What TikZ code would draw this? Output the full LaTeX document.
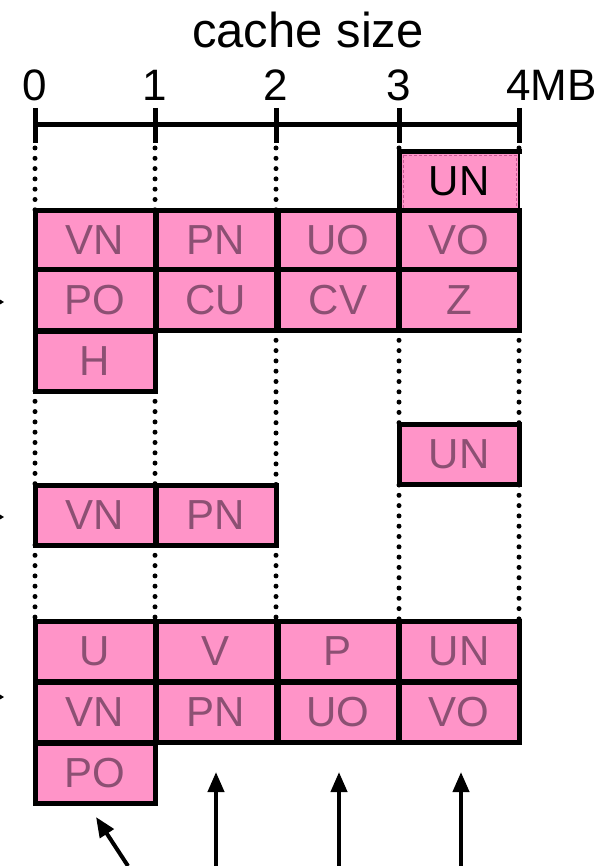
\documentclass[tikz,border=0pt]{standalone}
\usepackage{fontspec}
\setmainfont{Liberation Sans}
\usetikzlibrary{arrows.meta}
\definecolor{cpink}{RGB}{255,148,200}
\definecolor{cgrey}{RGB}{140,80,115}
\definecolor{cdash}{RGB}{200,90,150}
\tikzset{
  cell/.style={draw, line width=5pt, fill=cpink, minimum width=120pt, minimum height=60pt,
    inner sep=0pt, font=\fontsize{42}{42}\selectfont, text=cgrey},
  guide/.style={line width=5pt, dash pattern=on 0pt off 10.3pt, line cap=round},
  axislbl/.style={font=\fontsize{44}{44}\selectfont, inner sep=0pt},
  bigarrow/.style={line width=4pt, -{Triangle[length=20pt,width=16pt]}},
  smallarrow/.style={line width=1pt, -{Triangle[length=6pt,width=7pt]}}
}
\begin{document}
\begin{tikzpicture}[x=1pt,y=-1pt]
\useasboundingbox (0,0) rectangle (601,866);
% title and axis
\node[font=\fontsize{49}{49}\selectfont, inner sep=0pt] (title) at (308,30) {cache size};
\node[axislbl] (l0) at (35,85) {0};
\node[axislbl] (l1) at (155,85) {1};
\node[axislbl] (l2) at (276,85) {2};
\node[axislbl] (l3) at (399,85) {3};
\node[axislbl, anchor=west] (l4) at (506,85) {4MB};
\draw[line width=5pt] (35,125) -- (519,125);
\foreach \x in {35,155,276,399,519} \draw[line width=5pt] (\x,108) -- (\x,143);
% dotted guides
\foreach \x in {35,155,276} \draw[guide] (\x,148) -- (\x,211);
\foreach \x in {399,519} \draw[guide] (\x,148) -- (\x,152);
\foreach \x in {35,155} \draw[guide] (\x,391) -- (\x,485);
\draw[guide] (276,330) -- (276,485);
\foreach \x in {399,519} \draw[guide] (\x,330) -- (\x,424);
\foreach \x in {35,155,276} \draw[guide] (\x,545) -- (\x,620);
\foreach \x in {399,519} \draw[guide] (\x,485) -- (\x,620);
% section 1
\node[cell, draw=none, text=black] (a0) at (459,181.5) {UN};
\draw[cdash, line width=0.8pt, densely dashed] (403,155) rectangle (516,209);
\draw[line width=5pt, line cap=rect] (399,211) -- (399,152) -- (519,152);
\draw[line width=1.5pt] (519,152) -- (519,211);
\node[cell] (a1) at (95,240.5) {VN};
\node[cell] (a2) at (216,240.5) {PN};
\node[cell] (a3) at (338,240.5) {UO};
\node[cell] (a4) at (459,240.5) {VO};
\node[cell] (b1) at (95,300) {PO};
\node[cell] (b2) at (216,300) {CU};
\node[cell] (b3) at (338,300) {CV};
\node[cell] (b4) at (459,300) {Z};
\node[cell] (c1) at (95,361) {H};
% section 2
\node[cell] (d4) at (459,454.5) {UN};
\node[cell] (e1) at (95,515) {VN};
\node[cell] (e2) at (216,515) {PN};
% section 3
\node[cell] (f1) at (95,651) {U};
\node[cell] (f2) at (216,651) {V};
\node[cell] (f3) at (338,651) {P};
\node[cell] (f4) at (459,651) {UN};
\node[cell] (g1) at (95,712.5) {VN};
\node[cell] (g2) at (216,712.5) {PN};
\node[cell] (g3) at (338,712.5) {UO};
\node[cell] (g4) at (459,712.5) {VO};
\node[cell] (h1) at (95,773) {PO};
% arrows at bottom
\coordinate (t0) at (128,866);
\coordinate (h0) at (96,817);
\coordinate (t1) at (216,870);
\coordinate (h1t) at (216,772);
\coordinate (t2) at (339,870);
\coordinate (h2t) at (339,772);
\coordinate (t3) at (461,870);
\coordinate (h3t) at (461,772);
\draw[bigarrow] (t0) -- (h0);
\draw[bigarrow] (t1) -- (h1t);
\draw[bigarrow] (t2) -- (h2t);
\draw[bigarrow] (t3) -- (h3t);
% cut-off arrows at left edge
\coordinate (s1) at (-20,302); \coordinate (e1p) at (4,302);
\coordinate (s2) at (-20,517); \coordinate (e2p) at (4,517);
\coordinate (s3) at (-20,697); \coordinate (e3p) at (4,697);
\draw[smallarrow] (s1) -- (e1p);
\draw[smallarrow] (s2) -- (e2p);
\draw[smallarrow] (s3) -- (e3p);
\end{tikzpicture}
\end{document}
